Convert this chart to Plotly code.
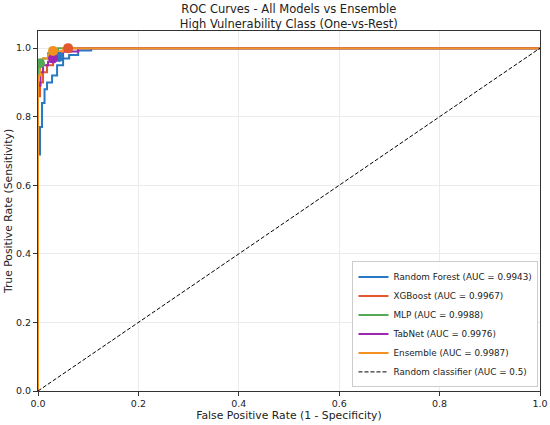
import plotly.graph_objects as go

# ---- data ----
model_names = ["Random Forest", "XGBoost", "MLP", "TabNet", "Ensemble"]
auc_values = [0.9943, 0.9967, 0.9988, 0.9976, 0.9987]
colors = ["#2878c3", "#e4572e", "#55a855", "#9c27b0", "#f39020"]

rf_fpr = [0, 0, 0.004, 0.004, 0.008, 0.008, 0.013, 0.013, 0.018, 0.018, 0.028, 0.028, 0.038, 0.038, 0.05, 0.05, 0.062, 0.062, 0.08, 0.08, 0.106, 0.106, 1]
rf_tpr = [0, 0.69, 0.69, 0.77, 0.77, 0.84, 0.84, 0.88, 0.88, 0.90, 0.90, 0.92, 0.92, 0.95, 0.95, 0.97, 0.97, 0.98, 0.98, 0.993, 0.993, 1, 1]

xgb_fpr = [0, 0, 0.004, 0.004, 0.01, 0.01, 0.018, 0.018, 0.03, 0.03, 0.045, 0.045, 0.065, 0.065, 1]
xgb_tpr = [0, 0.86, 0.86, 0.90, 0.90, 0.93, 0.93, 0.95, 0.95, 0.97, 0.97, 0.99, 0.99, 1, 1]

mlp_fpr = [0, 0, 0.004, 0.004, 0.01, 0.01, 0.02, 0.02, 0.04, 0.04, 1]
mlp_tpr = [0, 0.95, 0.95, 0.96, 0.96, 0.97, 0.97, 0.985, 0.985, 1, 1]

tab_fpr = [0, 0, 0.005, 0.005, 0.01, 0.01, 0.02, 0.02, 0.03, 0.03, 0.05, 0.05, 0.08, 0.08, 1]
tab_tpr = [0, 0.89, 0.89, 0.93, 0.93, 0.95, 0.95, 0.96, 0.96, 0.97, 0.97, 0.99, 0.99, 1, 1]

ens_fpr = [0, 0, 0.004, 0.004, 0.01, 0.01, 0.02, 0.02, 0.03, 0.03, 0.05, 0.05, 1]
ens_tpr = [0, 0.92, 0.92, 0.95, 0.95, 0.97, 0.97, 0.98, 0.98, 0.99, 0.99, 1, 1]

# optimal threshold points (fpr, tpr)
opt_fpr = [0.042, 0.06, 0.004, 0.03, 0.03]
opt_tpr = [0.974, 1.0, 0.956, 0.97, 0.992]

curves = [(rf_fpr, rf_tpr), (xgb_fpr, xgb_tpr), (mlp_fpr, mlp_tpr), (tab_fpr, tab_tpr), (ens_fpr, ens_tpr)]

fig = go.Figure()
for name, auc, col, (fx, ty) in zip(model_names, auc_values, colors, curves):
    fig.add_trace(go.Scatter(x=fx, y=ty, mode="lines", line=dict(color=col, width=2),
                             name=f"{name} (AUC = {auc:.4f})"))
for i in range(len(model_names)):
    fig.add_trace(go.Scatter(x=[opt_fpr[i]], y=[opt_tpr[i]], mode="markers",
                             marker=dict(color=colors[i], size=10), showlegend=False))
fig.add_trace(go.Scatter(x=[0, 1], y=[0, 1], mode="lines", line=dict(color="black", width=1, dash="4px,2px"),
                         name="Random classifier (AUC = 0.5)"))

font = "DejaVu Sans, sans-serif"
axis_common = dict(showline=True, linecolor="#333", linewidth=1, mirror=True, ticks="outside",
                   ticklen=4, tickcolor="#333", showgrid=True, gridcolor="#ebebeb", zeroline=False,
                   tickfont=dict(size=9.5, color="#222"), tickformat=".1f", dtick=0.2, automargin=False)
fig.update_layout(
    width=550, height=425,
    paper_bgcolor="white", plot_bgcolor="white",
    margin=dict(l=38, r=10, t=31, b=34),
    font=dict(family=font, color="#222"),
    title=dict(text="ROC Curves - All Models vs Ensemble<br>High Vulnerability Class (One-vs-Rest)",
               x=0.525, xanchor="center", yref="container", y=1 - 13 / 425, yanchor="bottom",
               font=dict(size=11.5), automargin=False),
    xaxis=dict(range=[0, 1], title=dict(text="False Positive Rate (1 - Specificity)", font=dict(size=10.8), standoff=3), **axis_common),
    yaxis=dict(range=[0, 1.05], title=dict(text="True Positive Rate (Sensitivity)", font=dict(size=10.8), standoff=1), **axis_common),
    legend=dict(x=0.997, y=0.01, xanchor="right", yanchor="bottom", bgcolor="rgba(255,255,255,0.9)",
                bordercolor="#cccccc", borderwidth=1, font=dict(size=8.8), tracegroupgap=0, itemwidth=30),
)
fig.write_html("out.html", post_script="document.body.style.margin='0';",
               config={"displayModeBar": False})
